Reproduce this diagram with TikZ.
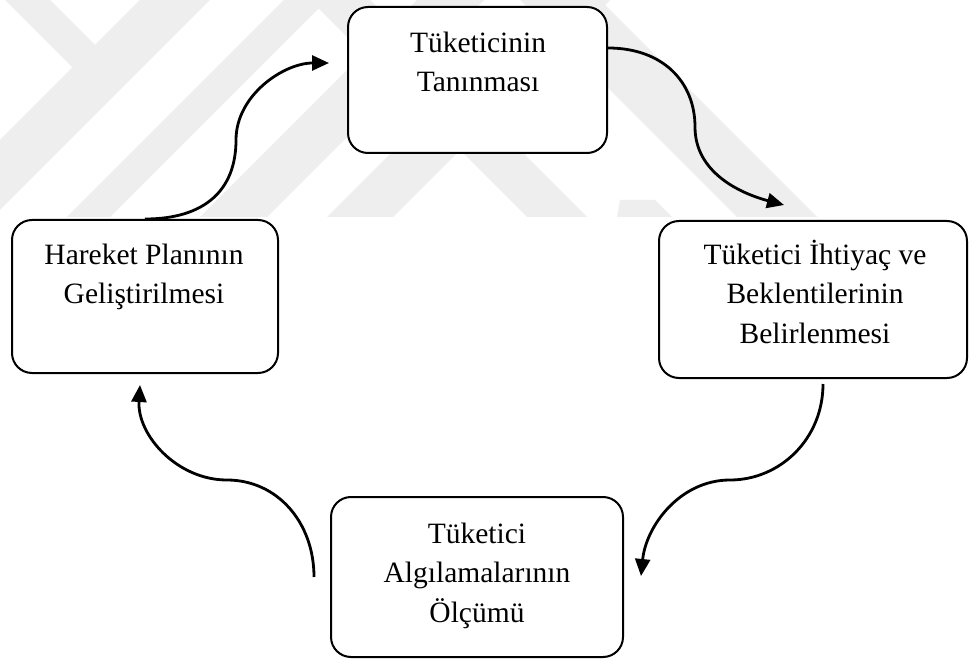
\documentclass[tikz,border=0pt]{standalone}
\usepackage{fontspec}
\setmainfont{Liberation Serif}
\usetikzlibrary{arrows.meta}
\definecolor{wmgray}{RGB}{238,238,238}
\begin{document}
\begin{tikzpicture}[x=1pt,y=-1pt,
  box/.style={draw=black, line width=2pt, fill=white, rounded corners=20pt, inner sep=0pt},
  txt/.style={align=center, inner sep=0pt, font=\fontsize{29.5}{39.5}\selectfont},
  conn/.style={line width=2.8pt, -{Triangle[length=17pt,width=15pt]}},
  wm/.style={fill=wmgray}]
\useasboundingbox (0,0) rectangle (969,660);
\fill[white] (0,0) rectangle (969,660);
% watermark
\fill[wm] (5,0) -- (50,0) -- (95,45) -- (140,0) -- (210,0) -- (0,210) -- (0,140) -- (72.5,67.5) -- cycle;
\fill[wm] (284,0) -- (327,0) -- (110,217) -- (67,217) -- cycle;
\fill[wm] (417,0) -- (484,0) -- (267,217) -- (200,217) -- cycle;
\fill[wm] (544,0) -- (610,0) -- (393,217) -- (327,217) -- cycle;
\fill[wm] (310,0) -- (370,0) -- (587,217) -- (527,217) -- cycle;
\fill[wm] (520,0) -- (600,0) -- (817,217) -- (737,217) -- cycle;
\fill[wm] (620,200) -- (655,200) -- (672,217) -- (617,217) -- cycle;
% boxes
\node[box, minimum width=259pt, minimum height=146pt] (top) at (477.5,80) {};
\node[box, minimum width=266pt, minimum height=153pt] (left) at (145,296.5) {};
\node[box, minimum width=308pt, minimum height=157pt] (right) at (813,299.5) {};
\node[box, minimum width=292pt, minimum height=160pt] (bottom) at (477,577) {};
% texts (base = baseline of last line)
\node[txt, anchor=base] (ttop) at (478,92) {Tüketicinin\\Tanınması};
\node[txt, anchor=base] (tleft) at (144,304) {Hareket Planının\\Geliştirilmesi};
\node[txt, anchor=base] (tright) at (815,343) {Tüketici İhtiyaç ve\\Beklentilerinin\\Belirlenmesi};
\node[txt, anchor=base] (tbottom) at (477,622) {Tüketici\\Algılamalarının\\Ölçümü};
% connector end points
\coordinate (e1) at ([xshift=-18pt,yshift=17pt]top.west);
\coordinate (e2) at ([xshift=-29pt,yshift=15pt]right.north);
\coordinate (e3) at ([xshift=17pt,yshift=1pt]bottom.east);
\coordinate (e4) at ([xshift=-5pt,yshift=-11pt]left.south);
% connectors
\draw[conn] (left.north) .. controls +(60,0) and +(0,50) .. (236,140)
  .. controls +(0,-45) and +(-45,0) .. (e1);
\draw[conn] ([yshift=32pt]top.east) .. controls +(55,0) and +(0,-45) .. (695,127)
  .. controls +(0,45) and +(-45,-12) .. (e2);
\draw[conn] ([xshift=10pt,yshift=-5pt]right.south) .. controls +(0,55) and +(50,0) .. (730,480)
  .. controls +(-50,0) and +(5,-50) .. (e3);
\draw[conn] ([xshift=-16pt]bottom.west) .. controls +(0,-55) and +(50,0) .. (227,480)
  .. controls +(-50,0) and +(-3,50) .. (e4);
\end{tikzpicture}
\end{document}
